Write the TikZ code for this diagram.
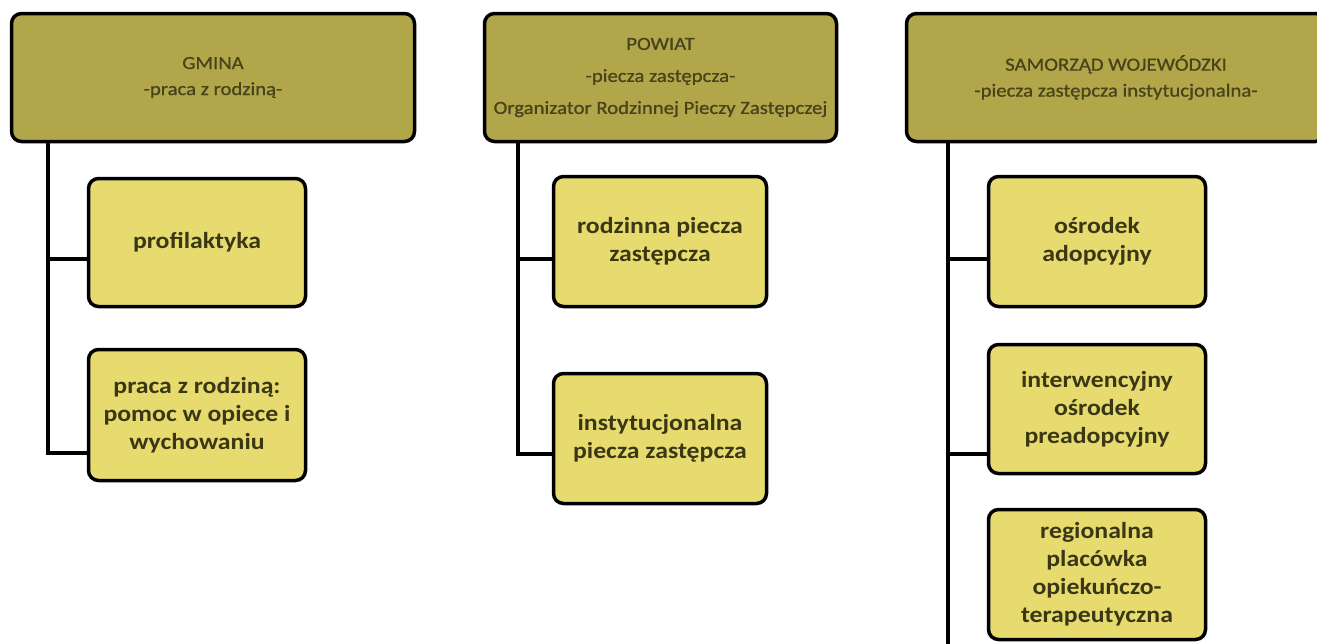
\documentclass[tikz,border=0pt]{standalone}
\usepackage{fontspec}
\setmainfont{Carlito}[FakeStretch=1.12]
\newfontfamily\headfont{Carlito}[FakeStretch=1.12,FakeBold=0.8]
\definecolor{headfill}{RGB}{178,166,74}
\definecolor{childfill}{RGB}{231,219,112}
\definecolor{headtext}{RGB}{72,67,26}
\definecolor{childtext}{RGB}{58,55,20}
\begin{document}
\begin{tikzpicture}[x=1pt,y=-1pt,
 headbox/.style={draw=black,line width=3.5pt,rounded corners=10pt,fill=headfill,text=headtext,align=center,font=\headfont\fontsize{18.5}{26}\selectfont,inner sep=0pt},
 childbox/.style={draw=black,line width=3.5pt,rounded corners=10pt,fill=childfill,text=childtext,align=center,font=\bfseries\fontsize{23}{28}\selectfont,inner sep=0pt},
 conn/.style={draw=black,line width=3.5pt}]
\useasboundingbox (0,0) rectangle (1317,643);
\fill[white] (0,0) rectangle (1317,643);
\clip (0,0) rectangle (1317,643);

% headers
\node[headbox,minimum width=403pt,minimum height=128pt] (gmina) at (213,77.5) {GMINA\\-praca z rodziną-};
\node[headbox,minimum width=352pt,minimum height=128pt,font=\headfont\fontsize{18.5}{32}\selectfont] (powiat) at (660.5,77.5) {POWIAT\\-piecza zastępcza-\\Organizator Rodzinnej Pieczy Zastępczej};
\node[headbox,minimum width=419pt,minimum height=128pt] (samorzad) at (1116,77.5) {SAMORZĄD WOJEWÓDZKI\\-piecza zastępcza instytucjonalna-};

% children
\node[childbox,minimum width=217pt,minimum height=128pt] (prof) at (197,242.5) {profilaktyka};
\node[childbox,minimum width=217pt,minimum height=131pt] (prac) at (197,415) {praca z rodziną:\\pomoc w opiece i\\wychowaniu};
\node[childbox,minimum width=213pt,minimum height=130pt] (rodz) at (660,241.5) {rodzinna piecza\\zastępcza};
\node[childbox,minimum width=213pt,minimum height=130pt] (inst) at (660,438.5) {instytucjonalna\\piecza zastępcza};
\node[childbox,minimum width=217pt,minimum height=130pt] (osr) at (1097,241.5) {ośrodek\\adopcyjny};
\node[childbox,minimum width=217pt,minimum height=129pt] (intw) at (1097,409) {interwencyjny\\ośrodek\\preadopcyjny};
\node[childbox,minimum width=217pt,minimum height=130pt] (reg) at (1097,574.5) {regionalna\\placówka\\opiekuńczo-\\terapeutyczna};

% connectors
\coordinate (g0) at (48,143);
\coordinate (g1) at (48,259);
\coordinate (g2) at (48,453);
\draw[conn] (g0) -- (g2) -- (g2 -| prac.west);
\draw[conn] (g1) -- (g1 -| prof.west);

\coordinate (p0) at (518,143);
\coordinate (p1) at (518,259);
\coordinate (p2) at (518,454);
\draw[conn] (p0) -- (p2) -- (p2 -| inst.west);
\draw[conn] (p1) -- (p1 -| rodz.west);

\coordinate (s0) at (948,143);
\coordinate (s1) at (948,259);
\coordinate (s2) at (948,454);
\coordinate (s3) at (948,650);
\draw[conn] (s0) -- (s3);
\draw[conn] (s1) -- (s1 -| osr.west);
\draw[conn] (s2) -- (s2 -| intw.west);
\end{tikzpicture}
\end{document}
